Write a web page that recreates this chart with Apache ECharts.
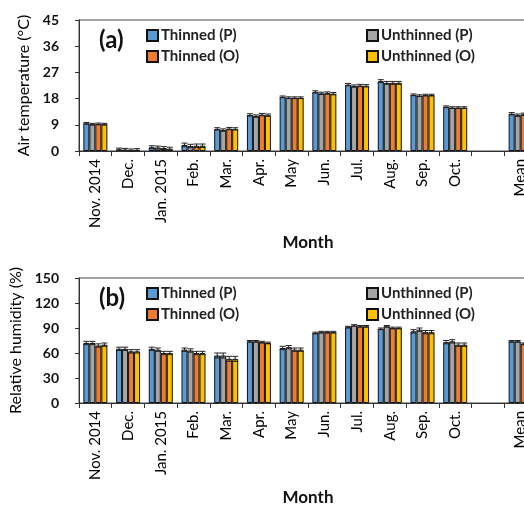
<!DOCTYPE html>
<html><head><meta charset="utf-8">
<script src="https://cdn.jsdelivr.net/npm/echarts@6/dist/echarts.min.js"></script>
<style>html,body{margin:0;padding:0;background:#fff}#c{width:524px;height:505px}</style>
</head><body><div id="c"></div>
<script>
var categories = ['Nov. 2014','Dec.','Jan. 2015','Feb.','Mar.','Apr.','May','Jun.','Jul.','Aug.','Sep.','Oct.','','Mean'];
var seriesNames = ['Thinned (P)','Unthinned (P)','Thinned (O)','Unthinned (O)'];
var colors = ['#5B9BD5','#A5A5A5','#ED7D31','#FFC000'];

// Air temperature (°C)
var tempThinnedP   = [9.5, 0.6, 1.3, 2.1, 7.6, 12.4, 18.6, 20.3, 22.8, 24.0, 19.3, 15.2, null, 12.8];
var tempUnthinnedP = [9.2, 0.5, 1.2, 1.7, 7.2, 12.0, 18.3, 19.8, 22.3, 23.4, 19.0, 14.9, null, 12.3];
var tempThinnedO   = [9.3, 0.3, 1.0, 1.8, 7.7, 12.5, 18.3, 19.9, 22.5, 23.4, 19.2, 14.9, null, 12.6];
var tempUnthinnedO = [9.2, 0.4, 0.8, 1.8, 7.6, 12.3, 18.3, 19.7, 22.4, 23.4, 19.2, 14.9, null, 12.5];
var tempErr        = [0.3, 0.4, 0.5, 0.6, 0.4, 0.4, 0.3, 0.4, 0.4, 0.5, 0.3, 0.3, null, 0.4];

// Relative humidity (%)
var rhThinnedP   = [72, 65, 65, 64, 57, 74, 66, 84, 91, 89, 86, 73, null, 74];
var rhUnthinnedP = [72, 65, 64, 63, 57, 74, 67, 85, 93, 92, 88, 74, null, 74];
var rhThinnedO   = [69, 62, 60, 60, 53, 73, 64, 85, 92, 90, 85, 70, null, 71];
var rhUnthinnedO = [70, 62, 60, 60, 53, 72, 64, 85, 92, 90, 85, 70, null, 71];
var rhErr        = [2, 2, 2, 2, 3, 1, 2, 1, 1, 1, 2, 2, null, 1];

var tempTicks = [0, 9, 18, 27, 36, 45];
var rhTicks = [0, 30, 60, 90, 120, 150];

var FONT = 'Lato';
var chart = echarts.init(document.getElementById('c'), null, {renderer:'canvas'});

function xAx(gi, nameGap){
  return {
    type:'category', gridIndex:gi, data:categories,
    name:'Month', nameLocation:'middle', nameGap:nameGap,
    nameTextStyle:{fontFamily:FONT, fontWeight:'bold', fontSize:17, color:'#111'},
    axisLine:{lineStyle:{color:'#333', width:1}},
    axisTick:{show:true, length:5, alignWithLabel:false, lineStyle:{color:'#333'}},
    axisLabel:{rotate:90, interval:0, fontFamily:FONT, fontSize:15, color:'#000', margin:8},
    splitLine:{show:false}
  };
}
function yAx(gi, max, interval, name){
  return {
    type:'value', gridIndex:gi, min:0, max:max, interval:interval,
    name:name, nameLocation:'middle', nameGap:47,
    nameTextStyle:{fontFamily:FONT, fontSize:16, color:'#000'},
    axisLine:{show:true, lineStyle:{color:'#333'}},
    axisTick:{show:true, length:4, lineStyle:{color:'#333'}},
    axisLabel:{fontFamily:FONT, fontWeight:'bold', fontSize:14, color:'#111', margin:20},
    splitLine:{show:false}
  };
}

var BW = 6;
function bars(gi, arrs){
  return arrs.map(function(d, i){
    return {
      name:seriesNames[i], type:'bar', xAxisIndex:gi, yAxisIndex:gi, data:d,
      barWidth:BW, barGap:'0%',
      itemStyle:{color:colors[i], borderColor:'#111', borderWidth:1}
    };
  });
}
function errs(gi, arrs, err){
  var data = [];
  arrs.forEach(function(d, si){
    d.forEach(function(v, ci){
      if (v != null) data.push([ci, v, err[ci], si]);
    });
  });
  return {
    type:'custom', xAxisIndex:gi, yAxisIndex:gi, silent:true, z:5,
    data:data,
    renderItem:function(params, api){
      var ci = api.value(0), v = api.value(1), e = api.value(2), si = api.value(3);
      var hi = api.coord([ci, v + e]), lo = api.coord([ci, v - e < 0 ? 0 : v - e]);
      var x = hi[0] + (si - 1.5) * BW;
      var st = {stroke:'#222', lineWidth:1};
      return {type:'group', children:[
        {type:'line', shape:{x1:x, y1:hi[1], x2:x, y2:lo[1]}, style:st},
        {type:'line', shape:{x1:x-3, y1:hi[1], x2:x+3, y2:hi[1]}, style:st},
        {type:'line', shape:{x1:x-3, y1:lo[1], x2:x+3, y2:lo[1]}, style:st}
      ]};
    }
  };
}
function legend(left, top, names){
  return {
    left:left, top:top, orient:'vertical', itemGap:6, itemWidth:11, itemHeight:11,
    icon:'rect', data:names, selectedMode:false,
    textStyle:{fontFamily:FONT, fontWeight:'bold', fontSize:15, color:'#222', padding:[0,0,0,-2]}
  };
}

var option = {
  animation:false,
  backgroundColor:'#fff',
  grid:[
    {left:79, width:458, top:20, height:131, outerBoundsMode:'none', containLabel:false, show:true, borderColor:'#444', borderWidth:1},
    {left:79, width:458, top:278, height:125, outerBoundsMode:'none', containLabel:false, show:true, borderColor:'#444', borderWidth:1}
  ],
  xAxis:[xAx(0, 83), xAx(1, 86)],
  yAxis:[yAx(0, 45, 9, 'Air temperature (°C)'), yAx(1, 150, 30, 'Relative humidity (%)')],
  legend:[
    legend(141, 23, ['Thinned (P)','Thinned (O)']),
    legend(361, 23, ['Unthinned (P)','Unthinned (O)']),
    legend(141, 281, ['Thinned (P)','Thinned (O)']),
    legend(361, 281, ['Unthinned (P)','Unthinned (O)'])
  ],
  graphic:[
    {type:'text', left:99, top:28, style:{text:'(a)', fontFamily:FONT, fontWeight:'bold', fontSize:24, fill:'#111'}},
    {type:'text', left:99, top:286, style:{text:'(b)', fontFamily:FONT, fontWeight:'bold', fontSize:24, fill:'#111'}}
  ],
  series:[].concat(
    bars(0, [tempThinnedP, tempUnthinnedP, tempThinnedO, tempUnthinnedO]),
    [errs(0, [tempThinnedP, tempUnthinnedP, tempThinnedO, tempUnthinnedO], tempErr)],
    bars(1, [rhThinnedP, rhUnthinnedP, rhThinnedO, rhUnthinnedO]),
    [errs(1, [rhThinnedP, rhUnthinnedP, rhThinnedO, rhUnthinnedO], rhErr)]
  )
};
chart.setOption(option);
</script></body></html>
